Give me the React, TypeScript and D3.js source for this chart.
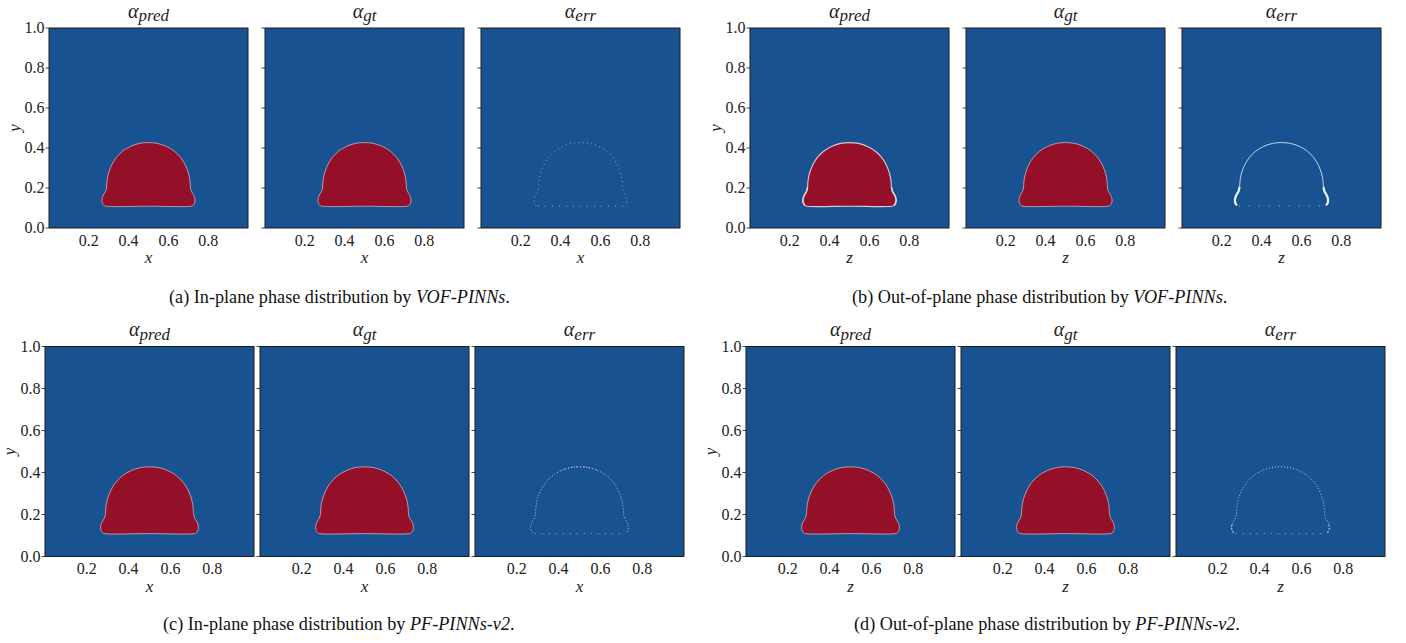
import React from 'react';
import * as d3 from 'd3';

const yTicks = [0, 0.2, 0.4, 0.6, 0.8, 1.0];
const xTicks = [0.2, 0.4, 0.6, 0.8];
const panelKinds = ['pred', 'gt', 'err'];

// left half of the droplet interface (x, y), top -> bottom centre
const dropLeft: [number, number][] = [
  [0.5, 0.427],
  [0.455, 0.423],
  [0.41, 0.408],
  [0.37, 0.384],
  [0.338, 0.352],
  [0.314, 0.313],
  [0.298, 0.27],
  [0.291, 0.232],
  [0.289, 0.2],
  [0.284, 0.183],
  [0.275, 0.168],
  [0.268, 0.152],
  [0.266, 0.137],
  [0.269, 0.123],
  [0.276, 0.113],
  [0.286, 0.109],
  [0.5, 0.109],
];
// lower-side bulge segment (where the out-of-plane error is largest)
const bulgeLeft: [number, number][] = [
  [0.289, 0.205],
  [0.284, 0.183],
  [0.275, 0.168],
  [0.268, 0.152],
  [0.266, 0.137],
  [0.269, 0.123],
  [0.276, 0.113],
];

const subfigIds = ['a', 'b', 'c', 'd'];
const captionPrefix = [
  '(a) In-plane phase distribution by ',
  '(b) Out-of-plane phase distribution by ',
  '(c) In-plane phase distribution by ',
  '(d) Out-of-plane phase distribution by ',
];
const captionMethod = ['VOF-PINNs', 'VOF-PINNs', 'PF-PINNs-v2', 'PF-PINNs-v2'];
const axisNames = ['x', 'z', 'x', 'z'];

const BLUE = '#185291';
const RED = '#940f28';

function fullContour(left: [number, number][]): [number, number][] {
  const right = left
    .slice(1, left.length - 1)
    .reverse()
    .map(([x, y]) => [1 - x, y] as [number, number]);
  return [...left, ...right];
}

const layout: Record<string, { left: number; step: number; w: number; top: number; h: number; titleY: number; capX: number; capY: number; ylabX: number }> = {
  a: { left: 49, step: 216, w: 199, top: 28, h: 200, titleY: 17.5, capX: 169, capY: 303, ylabX: 20 },
  b: { left: 750, step: 216, w: 199, top: 28, h: 200, titleY: 17.5, capX: 852, capY: 303, ylabX: 721 },
  c: { left: 45, step: 215, w: 209, top: 346.5, h: 210, titleY: 336, capX: 163, capY: 630, ylabX: 15 },
  d: { left: 746, step: 215, w: 209, top: 346.5, h: 210, titleY: 336, capX: 854, capY: 630, ylabX: 716 },
};

const TICKFONT = 'Liberation Serif, serif';

function Panel({ sf, idx, kind }: { sf: string; idx: number; kind: string }) {
  const L = layout[sf];
  const x0 = L.left + idx * L.step;
  const xs = d3.scaleLinear().domain([0, 1]).range([x0, x0 + L.w]);
  const ys = d3.scaleLinear().domain([0, 1]).range([L.top + L.h, L.top]);
  const line = d3
    .line<[number, number]>()
    .x((d) => xs(d[0]))
    .y((d) => ys(d[1]))
    .curve(d3.curveCatmullRomClosed);
  const openLine = d3
    .line<[number, number]>()
    .x((d) => xs(d[0]))
    .y((d) => ys(d[1]))
    .curve(d3.curveCatmullRom);
  const contour = fullContour(dropLeft);
  // upper arc from left-bottom corner, over the top, to right-bottom corner
  const upperOrdered = [
    ...dropLeft.slice(0, dropLeft.length - 2).slice().reverse(),
    ...dropLeft.slice(1, dropLeft.length - 2).map(([x, y]) => [1 - x, y] as [number, number]),
  ];
  const topArc = upperOrdered.filter(([, y]) => y > 0.39);
  const bottomSeg: [number, number][] = [
    dropLeft[dropLeft.length - 2],
    [1 - dropLeft[dropLeft.length - 2][0], dropLeft[dropLeft.length - 2][1]],
  ];
  const bulgeRight = bulgeLeft.map(([x, y]) => [1 - x, y] as [number, number]);

  let marks: React.ReactNode = null;
  if (kind !== 'err') {
    const bp = sf === 'b' && kind === 'pred';
    marks = (
      <g>
        <path d={line(contour) || ''} fill={RED} stroke={bp ? '#d6c9d5' : '#c3a3b6'} strokeWidth={bp ? 1.1 : 0.9} />
        {bp && (
          <g fill="none" stroke="#ddd3dc" strokeWidth={1.6}>
            <path d={openLine(bulgeLeft) || ''} />
            <path d={openLine(bulgeRight) || ''} />
          </g>
        )}
      </g>
    );
  } else if (sf === 'b') {
    marks = (
      <g fill="none">
        <path d={openLine(upperOrdered) || ''} stroke="#d5e1ef" strokeWidth={0.9} />
        <path d={openLine(bulgeLeft) || ''} stroke="#eef2f8" strokeWidth={2.2} />
        <path d={openLine(bulgeRight) || ''} stroke="#eef2f8" strokeWidth={2.2} />
        <path d={openLine(bottomSeg) || ''} stroke="#9fbde0" strokeWidth={1} strokeDasharray="1 9" />
      </g>
    );
  } else {
    const dense = sf === 'c' || sf === 'd';
    marks = (
      <g fill="none">
        <path d={openLine(upperOrdered) || ''} stroke={dense ? '#b7cce6' : '#93b4da'} strokeWidth={1} strokeDasharray={dense ? '1 2' : '0.9 3.4'} />
        <path d={openLine(bottomSeg) || ''} stroke="#8fb0d8" strokeWidth={1} strokeDasharray="1 6" />
        {sf === 'd' && (
          <g stroke="#d49aa6" strokeWidth={1.4} strokeDasharray="1.5 2">
            <path d={openLine(bulgeLeft.slice(3)) || ''} />
            <path d={openLine(bulgeRight.slice(3)) || ''} />
          </g>
        )}
        {sf === 'c' && <path d={openLine(topArc) || ''} stroke="#d9b3c0" strokeWidth={1} strokeDasharray="1 3" />}
      </g>
    );
  }

  return (
    <g>
      <rect x={x0} y={L.top} width={L.w} height={L.h} fill={BLUE} />
      {marks}
      <rect x={x0} y={L.top} width={L.w} height={L.h} fill="none" stroke="#1c1c1c" strokeWidth={1} />
      {yTicks.map((t) => (
        <line key={t} x1={x0 - 3.5} x2={x0} y1={ys(t)} y2={ys(t)} stroke="#1c1c1c" strokeWidth={0.8} />
      ))}
      {idx === 0 &&
        yTicks.map((t) => (
          <text key={t} x={x0 - 4.5} y={ys(t)} dy="0.34em" textAnchor="end" fontFamily={TICKFONT} fontSize={16} fill="#222">
            {t.toFixed(1)}
          </text>
        ))}
      {xTicks.map((t) => (
        <text key={t} x={xs(t)} y={L.top + L.h + 17.5} textAnchor="middle" fontFamily={TICKFONT} fontSize={16} fill="#222">
          {t.toFixed(1)}
        </text>
      ))}
      <text x={x0 + L.w / 2} y={L.top + L.h + 35} textAnchor="middle" fontFamily={TICKFONT} fontStyle="italic" fontSize={17} fill="#222">
        {axisNames[subfigIds.indexOf(sf)]}
      </text>
      <text x={x0 + L.w / 2} y={L.titleY} textAnchor="middle" fontFamily={TICKFONT} fontStyle="italic" fill="#222">
        <tspan fontSize={20}>α</tspan>
        <tspan fontSize={17} dy={3.5}>{kind}</tspan>
      </text>
      {idx === 0 && (
        <text transform={`translate(${L.ylabX},${L.top + L.h / 2}) rotate(-90)`} textAnchor="middle" fontFamily={TICKFONT} fontStyle="italic" fontSize={17} fill="#222">
          y
        </text>
      )}
    </g>
  );
}

export default function App() {
  return (
    <svg width={1406} height={643} style={{ position: 'absolute', left: 0, top: 0, background: '#fff' }}>
      {subfigIds.map((sf, si) => (
        <g key={sf}>
          {panelKinds.map((k, i) => (
            <Panel key={k} sf={sf} idx={i} kind={k} />
          ))}
          <text x={layout[sf].capX} y={layout[sf].capY} fontFamily="Liberation Serif, serif" fontSize={18.2} fill="#111">
            {captionPrefix[si]}
            <tspan fontStyle="italic">{captionMethod[si]}</tspan>.
          </text>
        </g>
      ))}
    </svg>
  );
}
